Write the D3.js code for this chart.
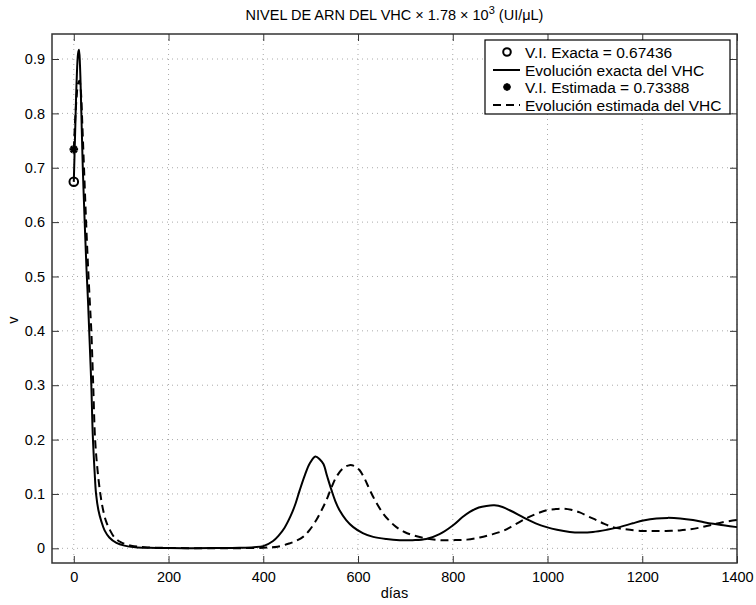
<!DOCTYPE html>
<html>
<head>
<meta charset="utf-8">
<script src="https://cdn.jsdelivr.net/npm/d3@7"></script>
<style>
  body { margin: 0; background: #fff; }
  text { font-family: "Liberation Sans", Arial, Helvetica, sans-serif; fill: #000; }
</style>
</head>
<body>
<div id="chart"></div>
<script>

// Days and virus level for the exact evolution (solid line).
var dias_exacta = [0, 3, 6, 9, 11, 13, 16, 19, 23, 27, 30, 33, 37, 40, 44, 47, 52, 58, 65, 75, 90, 107, 130, 160, 200, 250, 300, 350, 380, 400,
  420, 432, 445, 458, 468, 477, 488, 498, 510, 520, 527, 535, 544, 552, 561, 575, 590, 610, 632, 660, 688, 715, 744, 772,
  800, 820, 836, 855, 871, 888, 905, 920, 938, 955, 975, 998, 1020, 1047, 1070, 1096, 1125, 1152, 1180, 1202, 1230,
  1254, 1280, 1307, 1330, 1350, 1375, 1400];
var v_exacta = [0.674, 0.77, 0.86, 0.91, 0.917, 0.89, 0.80, 0.70, 0.60, 0.51, 0.455, 0.39, 0.30, 0.21, 0.14, 0.10, 0.07, 0.05, 0.033, 0.02, 0.01, 0.005, 0.002, 0.001, 0.0005, 0.0003, 0.0005, 0.001, 0.002, 0.004,
  0.013, 0.023, 0.038, 0.060, 0.082, 0.107, 0.135, 0.156, 0.169, 0.163, 0.155, 0.132, 0.107, 0.087, 0.070, 0.052, 0.039, 0.028, 0.021, 0.017, 0.015, 0.015, 0.017, 0.026,
  0.042, 0.057, 0.067, 0.075, 0.078, 0.079, 0.076, 0.070, 0.062, 0.054, 0.046, 0.039, 0.034, 0.030, 0.029, 0.030, 0.034, 0.039, 0.046, 0.051, 0.055,
  0.056, 0.055, 0.052, 0.048, 0.045, 0.042, 0.039];

// Days and virus level for the estimated evolution (dashed line).
var dias_estimada = [0, 3, 6, 9, 12, 15, 18, 22, 26, 30, 34, 37, 41, 45, 50, 56, 62, 68, 76, 86, 100, 121, 150, 200, 300, 350, 400,
  430, 455, 470, 484, 498, 512, 523, 533, 544, 554, 568, 582, 593, 603, 614, 625, 638, 653, 667, 681, 698, 716, 744, 772,
  800, 830, 857, 880, 906, 930, 955, 975, 998, 1015, 1033, 1050, 1068, 1085, 1103, 1120, 1138, 1156, 1174, 1200, 1223,
  1250, 1279, 1300, 1321, 1345, 1370, 1400];
var v_estimada = [0.734, 0.79, 0.83, 0.855, 0.86, 0.84, 0.78, 0.69, 0.60, 0.52, 0.45, 0.40, 0.30, 0.20, 0.145, 0.10, 0.07, 0.05, 0.034, 0.02, 0.011, 0.005, 0.002, 0.0007, 0.0002, 0.0003, 0.001,
  0.003, 0.009, 0.014, 0.021, 0.034, 0.052, 0.070, 0.088, 0.112, 0.131, 0.147, 0.153, 0.151, 0.144, 0.128, 0.107, 0.085, 0.064, 0.050, 0.039, 0.030, 0.024, 0.018, 0.015,
  0.015, 0.016, 0.020, 0.025, 0.032, 0.043, 0.055, 0.063, 0.070, 0.072, 0.073, 0.071, 0.066, 0.059, 0.052, 0.045, 0.039, 0.036, 0.034, 0.032, 0.032,
  0.032, 0.033, 0.035, 0.038, 0.043, 0.048, 0.052];

// Initial values (markers).
var vi_exacta = 0.67436;
var vi_estimada = 0.73388;

// Ticks and labels.
var x_ticks = [0, 200, 400, 600, 800, 1000, 1200, 1400];
var y_ticks = [0, 0.1, 0.2, 0.3, 0.4, 0.5, 0.6, 0.7, 0.8, 0.9];
var legend_labels = [
  'V.I. Exacta = 0.67436',
  'Evolución exacta del VHC',
  'V.I. Estimada = 0.73388',
  'Evolución estimada del VHC'
];

var width = 756, height = 605;
var plot = { left: 52, right: 737, top: 34, bottom: 563 };
var tick_len = 7;
var axis_color = '#333';
var font_stack = '"Liberation Sans", Arial, Helvetica, sans-serif';

var svg = d3.select('#chart')
  .append('svg')
    .attr('width', width)
    .attr('height', height);

// Scales.
var x_scale = d3.scaleLinear()
  .domain([-46, 1400])
  .range([plot.left, plot.right]);
var y_scale = d3.scaleLinear()
  .domain([-0.027, 0.946])
  .range([plot.bottom, plot.top]);

// Dotted grid.
svg.append('g')
  .selectAll('line')
  .data(x_ticks)
  .enter()
  .append('line')
    .attr('x1', function(d){ return x_scale(d); })
    .attr('x2', function(d){ return x_scale(d); })
    .attr('y1', plot.top)
    .attr('y2', plot.bottom)
    .attr('stroke', '#aaa')
    .attr('stroke-width', 1)
    .attr('stroke-dasharray', '1,4');
svg.append('g')
  .selectAll('line')
  .data(y_ticks)
  .enter()
  .append('line')
    .attr('x1', plot.left)
    .attr('x2', plot.right)
    .attr('y1', function(d){ return y_scale(d); })
    .attr('y2', function(d){ return y_scale(d); })
    .attr('stroke', '#aaa')
    .attr('stroke-width', 1)
    .attr('stroke-dasharray', '1,4');

// Axes: bottom and left carry labels, top and right only inward ticks.
function style_axis(g){
  g.select('.domain').remove();
  g.selectAll('.tick line').attr('stroke', axis_color).attr('stroke-width', 1);
  g.selectAll('.tick text')
    .style('font-family', font_stack)
    .style('font-size', '14.5px')
    .attr('fill', '#000');
}

svg.append('g')
  .attr('transform', 'translate(0,' + plot.bottom + ')')
  .call(d3.axisBottom(x_scale).tickValues(x_ticks).tickSizeInner(-tick_len).tickSizeOuter(0).tickPadding(9).tickFormat(d3.format('d')))
  .call(style_axis);
svg.append('g')
  .attr('transform', 'translate(0,' + plot.top + ')')
  .call(d3.axisTop(x_scale).tickValues(x_ticks).tickSizeInner(-tick_len).tickSizeOuter(0).tickFormat(''))
  .call(style_axis);
svg.append('g')
  .attr('transform', 'translate(' + plot.left + ',0)')
  .call(d3.axisLeft(y_scale).tickValues(y_ticks).tickSizeInner(-tick_len).tickSizeOuter(0).tickPadding(7).tickFormat(function(d){ return d === 0 ? '0' : d3.format('.1f')(d); }))
  .call(style_axis);
svg.append('g')
  .attr('transform', 'translate(' + plot.right + ',0)')
  .call(d3.axisRight(y_scale).tickValues(y_ticks).tickSizeInner(-tick_len).tickSizeOuter(0).tickFormat(''))
  .call(style_axis);

// Box round the plot.
svg.append('rect')
  .attr('x', plot.left)
  .attr('y', plot.top)
  .attr('width', plot.right - plot.left)
  .attr('height', plot.bottom - plot.top)
  .attr('fill', 'none')
  .attr('stroke', axis_color)
  .attr('stroke-width', 1.5);

// Curves.
var line = d3.line()
  .x(function(d){ return x_scale(d[0]); })
  .y(function(d){ return y_scale(d[1]); })
  .curve(d3.curveCatmullRom.alpha(0.5));

svg.append('path')
  .datum(d3.zip(dias_estimada, v_estimada))
  .attr('d', line)
  .attr('fill', 'none')
  .attr('stroke', '#000')
  .attr('stroke-width', 2)
  .attr('stroke-dasharray', '8,5');

svg.append('path')
  .datum(d3.zip(dias_exacta, v_exacta))
  .attr('d', line)
  .attr('fill', 'none')
  .attr('stroke', '#000')
  .attr('stroke-width', 2);

// Markers for the initial values.
function draw_star(g, cx, cy, r){
  for( var i = 0; i < 4; i++ ){
    var a = i * Math.PI / 4;
    g.append('line')
      .attr('x1', cx - r * Math.cos(a)).attr('y1', cy - r * Math.sin(a))
      .attr('x2', cx + r * Math.cos(a)).attr('y2', cy + r * Math.sin(a))
      .attr('stroke', '#000')
      .attr('stroke-width', 2.4);
  }
}

svg.append('circle')
  .attr('cx', x_scale(0))
  .attr('cy', y_scale(vi_exacta))
  .attr('r', 4.3)
  .attr('fill', 'none')
  .attr('stroke', '#000')
  .attr('stroke-width', 2);
draw_star(svg.append('g'), x_scale(0), y_scale(vi_estimada), 4.3);

// Legend.
var legend = svg.append('g');
legend.append('rect')
  .attr('x', 485)
  .attr('y', 40)
  .attr('width', 245)
  .attr('height', 74)
  .attr('fill', '#fff')
  .attr('stroke', '#000')
  .attr('stroke-width', 1.2);

var row_y = [52, 70, 87, 105];
legend.selectAll('text.lbl')
  .data(legend_labels)
  .enter()
  .append('text')
    .attr('class', 'lbl')
    .attr('x', 525)
    .attr('y', function(d, i){ return row_y[i]; })
    .attr('dy', '0.36em')
    .style('font-size', '15.5px')
    .text(function(d){ return d; });

legend.append('circle')
  .attr('cx', 507).attr('cy', row_y[0]).attr('r', 3.8)
  .attr('fill', 'none').attr('stroke', '#000').attr('stroke-width', 2);
legend.append('line')
  .attr('x1', 493).attr('x2', 520).attr('y1', row_y[1]).attr('y2', row_y[1])
  .attr('stroke', '#000').attr('stroke-width', 2);
draw_star(legend, 507, row_y[2], 3.8);
legend.append('line')
  .attr('x1', 493).attr('x2', 520).attr('y1', row_y[3]).attr('y2', row_y[3])
  .attr('stroke', '#000').attr('stroke-width', 2).attr('stroke-dasharray', '8,5');

// Title with superscript.
var title = svg.append('text')
  .attr('x', (plot.left + plot.right) / 2)
  .attr('y', 20)
  .attr('text-anchor', 'middle')
  .style('font-size', '14.5px');
title.append('tspan').text('NIVEL DE ARN DEL VHC \u00d7 1.78 \u00d7 10');
title.append('tspan').attr('dy', -6).style('font-size', '11px').text('3');
title.append('tspan').attr('dy', 6).text(' (UI/\u03bcL)');

// Axis labels.
svg.append('text')
  .attr('x', (plot.left + plot.right) / 2)
  .attr('y', 598)
  .attr('text-anchor', 'middle')
  .style('font-size', '14.5px')
  .text('días');
svg.append('text')
  .attr('transform', 'translate(18,320) rotate(-90)')
  .attr('text-anchor', 'middle')
  .style('font-size', '14.5px')
  .text('v');

</script>
</body>
</html>
